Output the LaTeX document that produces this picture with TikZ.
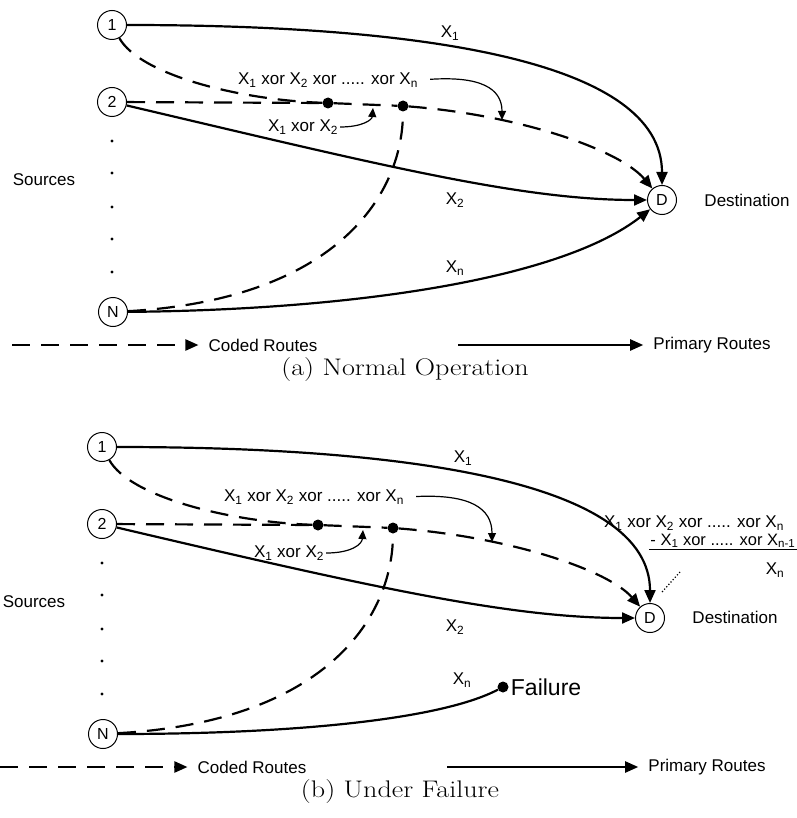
\documentclass[tikz,border=0pt]{standalone}
\usepackage{fontspec}
\newfontfamily\lab{Liberation Sans}
\usetikzlibrary{arrows.meta}
\tikzset{
  >={Triangle[length=13pt,width=11pt]},
  src/.style  ={draw, circle, line width=1pt, minimum size=29pt, inner sep=0pt, font=\lab\fontsize{16}{16}\selectfont},
  junc/.style ={circle, fill, minimum size=11pt, inner sep=0pt},
  prim/.style ={->, line width=2.2pt},
  coded/.style={line width=2.2pt, dash pattern=on 18pt off 11pt},
  note/.style ={-{Triangle[length=9pt,width=8pt]}, line width=1.2pt},
  ptr/.style  ={line width=1.2pt, dotted},
  lbl/.style  ={font=\lab\fontsize{17}{20}\selectfont, inner sep=2pt},
  capt/.style ={font=\fontsize{24}{28}\selectfont},
}
\newcommand{\xs}[1]{X\textsubscript{#1}}
\newcommand{\wide}[1]{\scalebox{1.17}[1]{#1}}

\begin{document}
\begin{tikzpicture}[x=1pt, y=-1pt]
  \useasboundingbox[fill=white] (0,0) rectangle (796,818);

  % (a) normal operation
  \node[src] (a1) at (112,25) {1};
  \node[src] (a2) at (112,102) {2};
  \node[src] (aN) at (113,312) {N};
  \node[src] (aD) at (662,200) {D};
  \node[lbl] (asrc) at (44,180) {Sources};
  \node[lbl] (adst) at (747,200) {Destination};
  \foreach \y in {141,173,207,239,272} \fill (112,\y) circle (1.6pt);
  \node[junc] (aj1) at (328,103) {};
  \node[junc] (aj2) at (403,106) {};

  \draw[prim] (a1) .. controls (420,25) and (662,60) .. (aD);
  \draw[prim] (a2) .. controls (380,165) and (520,200) .. (aD);
  \draw[prim] (aN) .. controls (350,310) and (560,280) .. (aD);
  \node[lbl] (ax1) at (450,33) {\xs{1}};
  \node[lbl] (ax2) at (455,200) {\xs{2}};
  \node[lbl] (axn) at (455,268) {\xs{n}};

  \draw[coded] (a1) .. controls (140,75) and (240,100) .. (aj1);
  \draw[coded] (a2) -- (aj1);
  \draw[coded] (aj1) -- (aj2);
  \draw[coded] (aN) .. controls (330,300) and (403,200) .. (aj2);
  \draw[coded,->] (aj2) .. controls (520,115) and (620,150) .. (aD);

  \node[lbl] (axall) at (328,80) {\xs{1} xor \xs{2} xor ..... xor \xs{n}};
  \coordinate (ap1) at (502,120);
  \draw[note, shorten <=10pt] (axall.east) .. controls (480,76) and (502,88) .. (ap1);
  \node[lbl] (ax12) at (303,127) {\xs{1} xor \xs{2}};
  \coordinate (ap2) at (373,108);
  \draw[note] (ax12.east) .. controls (362,127) and (372,120) .. (ap2);

  \coordinate (alc) at (12,345);
  \node[lbl] (acoded) at (263,345) {Coded Routes};
  \draw[coded,->, shorten >=8pt] (alc) -- (acoded.west);
  \coordinate (alp) at (458,345);
  \node[lbl] (aprim) at (712,345) {Primary Routes};
  \draw[prim, shorten >=8pt] (alp) -- (aprim.west);
  \node[capt] (acap) at (405,370) {\wide{(a) Normal Operation}};

  % (b) under failure
  \begin{scope}[shift={(-10,422)}]
    \node[src] (b1) at (112,25) {1};
    \node[src] (b2) at (112,102) {2};
    \node[src] (bN) at (113,312) {N};
    \node[src] (bD) at (660,196) {D};
    \node[lbl] (bsrc) at (44,180) {Sources};
    \node[lbl] (bdst) at (745,195) {Destination};
    \foreach \y in {141,173,207,239,272} \fill (112,\y) circle (1.6pt);
    \node[junc] (bj1) at (328,103) {};
    \node[junc] (bj2) at (403,106) {};
    \node[junc] (bfail) at (513,265) {};
    \node[lbl, font=\lab\fontsize{23}{26}\selectfont, anchor=west] (bfailt) at (bfail.east) {Failure};

    \draw[prim] (b1) .. controls (420,25) and (660,60) .. (bD);
    \draw[prim] (b2) .. controls (380,165) and (520,196) .. (bD);
    \draw[line width=2.2pt] (bN) .. controls (300,312) and (450,298) .. (bfail);
    \node[lbl] (bx1) at (473,36) {\xs{1}};
    \node[lbl] (bx2) at (465,205) {\xs{2}};
    \node[lbl] (bxn) at (472,258) {\xs{n}};

    \draw[coded] (b1) .. controls (140,75) and (240,100) .. (bj1);
    \draw[coded] (b2) -- (bj1);
    \draw[coded] (bj1) -- (bj2);
    \draw[coded] (bN) .. controls (330,300) and (403,200) .. (bj2);
    \draw[coded,->] (bj2) .. controls (520,115) and (618,148) .. (bD);

    \node[lbl] (bxall) at (324,75) {\xs{1} xor \xs{2} xor ..... xor \xs{n}};
    \coordinate (bp1) at (502,120);
    \draw[note, shorten <=10pt] (bxall.east) .. controls (480,72) and (502,86) .. (bp1);
    \node[lbl] (bx12) at (299,131) {\xs{1} xor \xs{2}};
    \coordinate (bp2) at (373,108);
    \draw[note] (bx12.east) .. controls (362,131) and (372,122) .. (bp2);

    % recovered X_n at D
    \node[lbl, inner sep=0pt] (bfr1) at (704,101) {\xs{1} xor \xs{2} xor ..... xor \xs{n}};
    \node[lbl, inner sep=1.5pt, font=\lab\fontsize{16.5}{18}\selectfont, anchor=east] (bfr2) at (807,119) {- \xs{1} xor ..... xor \xs{n-1}};
    \draw[line width=1.2pt] (bfr2.south west) -- (bfr2.south east);
    \node[lbl] (bfr3) at (785,148) {\xs{n}};
    \coordinate (bq0) at (690,150);
    \coordinate (bq1) at (672,170);
    \draw[ptr] (bq0) -- (bq1);

    \coordinate (blc) at (10,345);
    \node[lbl] (bcoded) at (262,345) {Coded Routes};
    \draw[coded,->, shorten >=8pt] (blc) -- (bcoded.west);
    \coordinate (blp) at (457,345);
    \node[lbl] (bprim) at (717,345) {Primary Routes};
    \draw[prim, shorten >=8pt] (blp) -- (bprim.west);
    \node[capt] (bcap) at (410,370) {\wide{(b) Under Failure}};
  \end{scope}
\end{tikzpicture}
\end{document}
